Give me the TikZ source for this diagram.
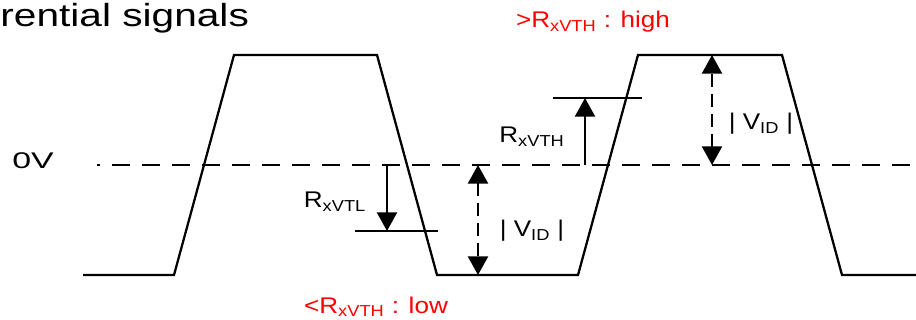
\documentclass[tikz,border=0pt]{standalone}
\usepackage{fontspec}
\setmainfont{Liberation Sans}
\usetikzlibrary{arrows.meta}
\tikzset{>={Triangle[length=14pt,width=15pt]}}
\tikzset{lbl/.style={font=\fontsize{17}{20}\selectfont,inner sep=0pt,anchor=base,xscale=1.15},
  redlbl/.style={lbl,text=red},
  zeroline/.style={dash pattern=on 13.5pt off 9pt,dash phase=11.25pt}}

\begin{document}
\begin{tikzpicture}[x=0.75pt,y=0.75pt,line width=1.7pt]
\useasboundingbox (0,-155) rectangle (916,165);
% title, cut off at the left edge
\node[anchor=base west,inner sep=0pt,xscale=1.27,font=\fontsize{24}{28}\selectfont] (title) at (-1,138) {rential signals};
% signal
\draw (83,-110) -- (174,-110) -- (234,110) -- (377,110) -- (437,-110) -- (578,-110)
  -- (638,110) -- (782,110) -- (842,-110) -- (916,-110);
% 0V line
\coordinate (z0) at (97,0);
\coordinate (z1) at (916,0);
\draw[zeroline] (z0) -- (z1);
\node[lbl,xscale=1.3] (zero) at (33,-4) {0V};
% thresholds
\coordinate (TL0) at (387,0);
\coordinate (TL) at (387,-66);
\coordinate (TLa) at (355,-66);
\coordinate (TLb) at (438,-66);
\draw (TLa) -- (TLb);
\draw[->] (TL0) -- (TL);
\node[lbl] (rvtl) at (335,-43) {R\textsubscript{xVTL}};
\coordinate (TH0) at (585,0);
\coordinate (TH) at (585,67);
\coordinate (THa) at (553,67);
\coordinate (THb) at (642,67);
\draw (THa) -- (THb);
\draw[->] (TH0) -- (TH);
\node[lbl] (rvth) at (532,22) {R\textsubscript{xVTH}};
% differential swing
\coordinate (V1a) at (478,0);
\coordinate (V1b) at (478,-110);
\draw[<->,dash pattern=on 10pt off 5pt] (V1a) -- (V1b);
\node[lbl] (vid1) at (532,-72) {| V\textsubscript{ID} |};
\coordinate (V2a) at (712,0);
\coordinate (V2b) at (712,110);
\draw[<->,dash pattern=on 10pt off 5pt] (V2a) -- (V2b);
\node[lbl] (vid2) at (761,35) {| V\textsubscript{ID} |};
% levels
\node[redlbl] (high) at (593,137) {>R\textsubscript{xVTH} : high};
\node[redlbl] (low) at (376,-148) {<R\textsubscript{xVTH} : low};
\end{tikzpicture}
\end{document}
